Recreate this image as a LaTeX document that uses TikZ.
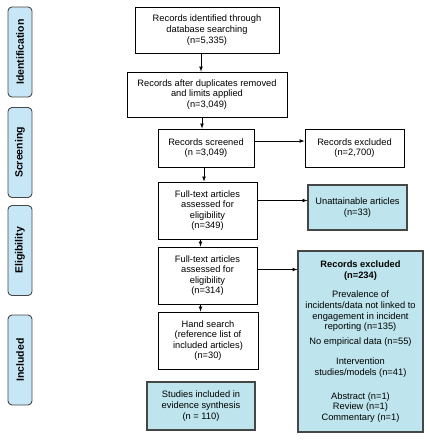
\documentclass[tikz,border=0pt]{standalone}
\usepackage{fontspec}
\setmainfont{Liberation Sans}
\definecolor{boxblue}{RGB}{190,229,237}
\definecolor{tabblue}{RGB}{200,231,246}
\definecolor{edgegray}{RGB}{70,70,70}
\begin{document}
\begin{tikzpicture}[x=1pt,y=-1pt,
    font=\fontsize{9.3}{10.6}\selectfont,
    stage/.style={draw=edgegray,fill=tabblue,rounded corners=4pt,line width=0.9pt,
        rotate=90,minimum width=90pt,minimum height=24pt,inner sep=0pt,font=\fontsize{10.5}{12}\selectfont\bfseries},
    flowbox/.style={draw,line width=0.9pt,align=center,inner sep=1pt},
    bluebox/.style={flowbox,draw=edgegray,fill=boxblue,line width=1.1pt},
    arr/.style={->,>=latex,line width=0.7pt}]
    \useasboundingbox (0,0) rectangle (430,440);
    % stages on the left
    \node[stage] (ident) at (20,52) {Identification};
    \node[stage] (screen) at (20,152.5) {Screening};
    \node[stage] (elig) at (20,250.5) {Eligibility};
    \node[stage] (incl) at (20,360) {Included};
    % main column
    \node[flowbox,minimum width=144pt,minimum height=46pt] (found) at (207,30)
        {Records identified through\\database searching\\(n=5,335)};
    \node[flowbox,minimum width=160pt,minimum height=45pt] (dedup) at (207,94.5)
        {Records after duplicates removed\\and limits applied\\(n=3,049)};
    \node[flowbox,minimum width=96pt,minimum height=38pt] (screened) at (206,148)
        {Records screened\\(n =3,049)};
    \node[flowbox,minimum width=99pt,minimum height=57pt] (full1) at (207.5,210.5)
        {Full-text articles\\assessed for\\eligibility\\(n=349)};
    \node[flowbox,minimum width=99pt,minimum height=57pt] (full2) at (207.5,275.5)
        {Full-text articles\\assessed for\\eligibility\\(n=314)};
    \node[flowbox,minimum width=100pt,minimum height=57pt] (hand) at (208,340.5)
        {Hand search\\(reference list of\\included articles)\\(n=30)};
    \node[bluebox,minimum width=108pt,minimum height=48pt] (synth) at (201,406)
        {Studies included in\\evidence synthesis\\(n = 110)};
    % right column
    \node[flowbox,minimum width=99pt,minimum height=38pt] (excl1) at (354.5,148)
        {Records excluded\\(n=2,700)};
    \node[bluebox,minimum width=99pt,minimum height=45pt] (unatt) at (357.5,207.5)
        {Unattainable articles\\(n=33)};
    \node[bluebox,minimum width=125pt,minimum height=181pt] (excl2) at (360.5,341.5)
        {\textbf{Records excluded}\\\textbf{(n=234)}\\[9pt]
         Prevalence of\\incidents/data not linked to\\engagement in incident\\reporting (n=135)\\[4pt]
         No empirical data (n=55)\\[10pt]
         Intervention\\studies/models (n=41)\\[13pt]
         Abstract (n=1)\\Review (n=1)\\Commentary (n=1)};
    % connectors
    \draw[arr] ([xshift=-6pt]found.south) -- ([xshift=-6pt]found.south |- dedup.north);
    \draw[arr] ([xshift=-5pt]dedup.south) -- ([xshift=-5pt]dedup.south |- screened.north);
    \draw[arr] ([xshift=-2pt]screened.south) -- ([xshift=-2pt]screened.south |- full1.north);
    \draw[arr] ([xshift=-7pt]full1.south) -- ([xshift=-7pt]full1.south |- full2.north);
    \draw[arr] ([xshift=-7pt]full2.south) -- ([xshift=-7pt]full2.south |- hand.north);
    \draw[arr] ([yshift=7pt]screened.east) -- ([yshift=7pt]screened.east -| excl1.west);
    \draw[arr] ([yshift=10pt]full1.east) -- ([yshift=10pt]full1.east -| unatt.west);
    \draw[arr] ([yshift=6pt]full2.east) -- ([yshift=6pt]full2.east -| excl2.west);
\end{tikzpicture}
\end{document}
